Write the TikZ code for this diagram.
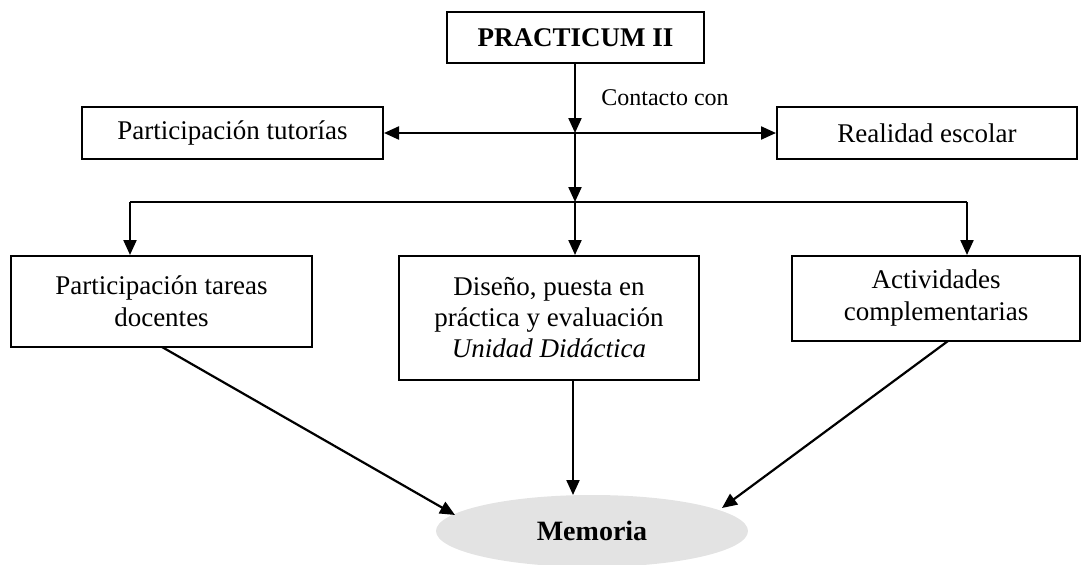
\documentclass[tikz,border=0pt]{standalone}
\usepackage{fontspec}
\setmainfont{Liberation Serif}
\usetikzlibrary{arrows.meta,shapes.geometric}
\begin{document}
\begin{tikzpicture}[x=1pt,y=-1pt,
  box/.style={draw,line width=2pt,align=center,inner sep=0pt,font=\fontsize{27}{32}\selectfont},
  conn/.style={line width=2.2pt},
  arr/.style={line width=2.2pt,-{Triangle[length=15pt,width=13pt]}},
  arrboth/.style={line width=2.2pt,{Triangle[length=15pt,width=13pt]}-{Triangle[length=15pt,width=13pt]}}]
\useasboundingbox (0,0) rectangle (1082,565);
% nodes
\node[box,minimum width=257pt,minimum height=51pt,font=\fontsize{27}{31}\selectfont\bfseries] (prac) at (575.5,37.5) {PRACTICUM II};
\node[box,minimum width=301pt,minimum height=52pt] (tut) at (232.5,133) {Participación tutorías};
\node[box,minimum width=300pt,minimum height=52pt] (real) at (927,133) {Realidad escolar};
\node[font=\fontsize{24}{28}\selectfont,anchor=center] (cont) at (665,98) {Contacto con};
\node[box,minimum width=301pt,minimum height=91pt] (ptd) at (161.5,301.5) {Participación tareas\\docentes};
\node[box,minimum width=300pt,minimum height=124pt,font=\fontsize{27}{31}\selectfont] (dis) at (549,318) {Diseño, puesta en\\práctica y evaluación\\\textit{Unidad Didáctica}};
\node[box,minimum width=288pt,minimum height=85pt] (act) at (936,298.5) {Actividades\\complementarias};
\node[ellipse,fill=black!11,minimum width=312pt,minimum height=72pt,inner sep=0pt,font=\fontsize{28}{32}\selectfont\bfseries] (mem) at (592,531) {Memoria};
% junctions
\coordinate (j1) at (575,133);
\coordinate (j2) at (575,202);
\coordinate (jl) at (130,202);
\coordinate (jr) at (967,202);
\coordinate (s1) at (162,347);
\coordinate (e1) at (455,515);
\coordinate (s2) at (573,380);
\coordinate (e2) at (573,495);
\coordinate (s3) at (948,341);
\coordinate (e3) at (722,508);
% connectors
\draw[arr] (prac.south -| j1) -- (j1);
\draw[arrboth] (tut.east) -- (real.west);
\draw[arr] (j1) -- (j2);
\draw[conn] (jl) -- (jr);
\draw[arr] (jl) -- (ptd.north -| jl);
\draw[arr] (j2) -- (dis.north -| j2);
\draw[arr] (jr) -- (act.north -| jr);
\draw[arr] (s1) -- (e1);
\draw[arr] (s2) -- (e2);
\draw[arr] (s3) -- (e3);
\end{tikzpicture}
\end{document}
